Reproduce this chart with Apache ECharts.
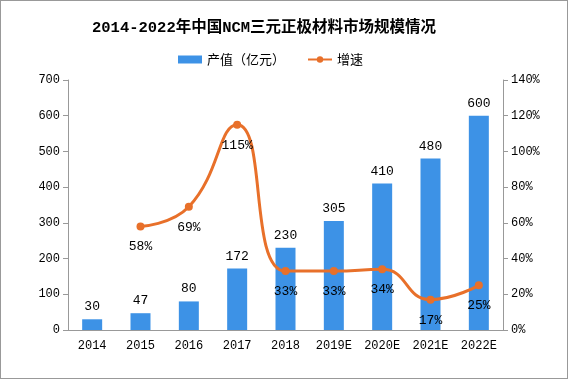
<!DOCTYPE html>
<html><head><meta charset="utf-8">
<script src="https://cdn.jsdelivr.net/npm/echarts@6/dist/echarts.min.js"></script>
<style>html,body{margin:0;padding:0;background:#fff}#c{width:566px;height:377px;border:1px solid #999}</style>
</head><body><div id="c"></div>
<script>
var categories = ['2014','2015','2016','2017','2018','2019E','2020E','2021E','2022E'];
var output = [30,47,80,172,230,305,410,480,600];
var growth = [null,58,69,115,33,33,34,17,25];
var leftTicks = [0,700,100];
var rightTicks = [0,140,20];
var font = '"Liberation Mono","Noto Sans CJK SC",monospace';
var chart = echarts.init(document.getElementById('c'));
chart.setOption({
  animation:false,
  textStyle:{fontFamily:font},
  title:{text:'2014-2022年中国NCM三元正极材料市场规模情况',left:86,top:14,
    textStyle:{fontSize:15.5,fontWeight:'bold',color:'#000',fontFamily:font}},
  legend:{top:47,left:172,itemGap:22,itemWidth:24,itemHeight:8,
    textStyle:{fontSize:13,color:'#000',fontFamily:'"Noto Sans CJK SC",sans-serif'},
    data:[{name:'产值（亿元）',icon:'rect'},{name:'增速'}]},
  grid:{left:67,right:64,top:79,bottom:48},
  xAxis:{type:'category',data:categories,
    axisLine:{lineStyle:{color:'#999'}},axisTick:{alignWithLabel:false,lineStyle:{color:'#999'}},
    axisLabel:{color:'#000',fontSize:12,margin:10,fontFamily:font}},
  yAxis:[
    {type:'value',min:leftTicks[0],max:leftTicks[1],interval:leftTicks[2],splitLine:{show:false},
     axisLine:{show:true,lineStyle:{color:'#999'}},axisTick:{show:true,lineStyle:{color:'#999'}},
     axisLabel:{color:'#000',fontSize:12,margin:8,fontFamily:font}},
    {type:'value',min:rightTicks[0],max:rightTicks[1],interval:rightTicks[2],splitLine:{show:false},
     axisLine:{show:true,lineStyle:{color:'#999'}},axisTick:{show:true,lineStyle:{color:'#999'}},
     axisLabel:{color:'#000',fontSize:12,margin:8,formatter:'{value}%',fontFamily:font}}
  ],
  series:[
    {name:'产值（亿元）',type:'bar',data:output,barWidth:20,itemStyle:{color:'#3D92E6'},
     label:{show:true,position:'top',color:'#000',fontSize:13,distance:6,fontFamily:font}},
    {name:'增速',type:'line',yAxisIndex:1,data:growth,smooth:0.5,connectNulls:false,
     symbol:'circle',symbolSize:8,lineStyle:{color:'#E8702A',width:3},itemStyle:{color:'#E8702A'},
     label:{show:true,position:'bottom',distance:10,color:'#000',fontSize:13,formatter:'{c}%',fontFamily:font}}
  ]
});
</script></body></html>
